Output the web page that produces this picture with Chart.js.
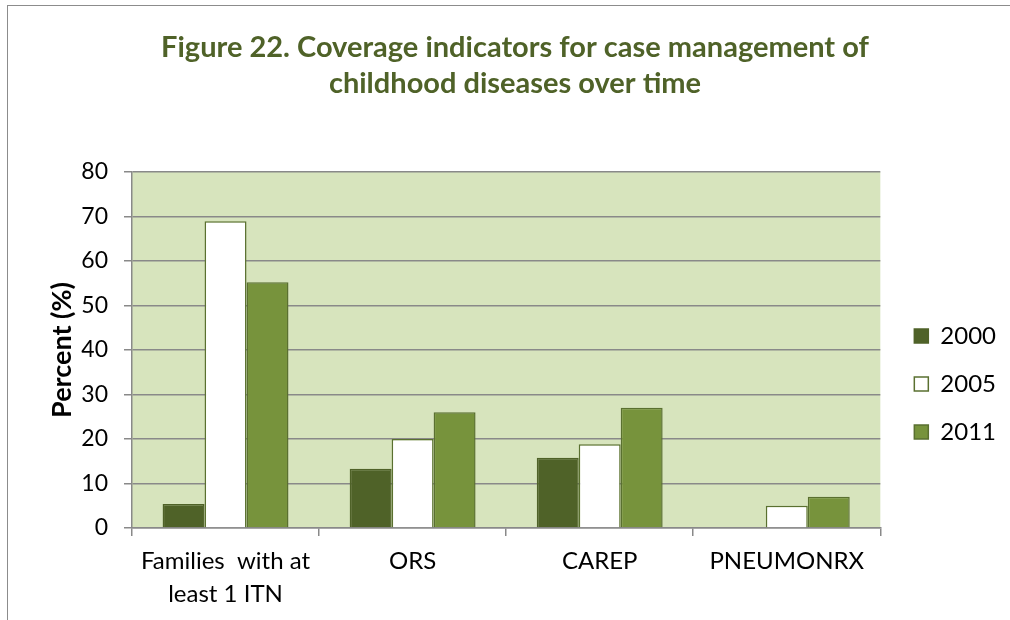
<!DOCTYPE html>
<html>
<head>
<meta charset="utf-8">
<script src="https://cdn.jsdelivr.net/npm/chart.js@4.4.0/dist/chart.umd.min.js"></script>
<style>
  html, body { margin: 0; padding: 0; background: #fff; }
  #wrap { position: relative; width: 1010px; height: 620px; overflow: hidden; }
  #frame { position: absolute; left: 7px; top: 5px; width: 1100px; height: 700px;
           border: 1.5px solid #8c8c8c; box-sizing: border-box; pointer-events: none; }
  canvas { position: absolute; left: 0; top: 0; }
</style>
</head>
<body>
<div id="wrap">
  <canvas id="chart" width="1010" height="620"></canvas>
  <div id="frame"></div>
</div>
<script>
// Datos
const categories = [['Families  with at', 'least 1 ITN'], 'ORS', 'CAREP', 'PNEUMONRX'];
const years = ['2000', '2005', '2011'];
const values2000 = [5.4, 13.3, 15.8, 0];
const values2005 = [68.9, 20, 18.8, 5];
const values2011 = [55.2, 26, 27, 7];
const yTicks = [0, 10, 20, 30, 40, 50, 60, 70, 80];

const fontFamily = 'Lato, "Open Sans", sans-serif';
const darkGreen = '#4f6228';
const midGreen = '#77933c';
const gridGray = '#898989';

// Fondo del área de trazado
const plotBackground = {
    id: 'plotBackground',
    beforeDraw(chart) {
        const { ctx, chartArea } = chart;
        ctx.save();
        ctx.fillStyle = '#d7e4bd';
        ctx.fillRect(chartArea.left, chartArea.top, chartArea.right - chartArea.left, chartArea.bottom - chartArea.top);
        ctx.restore();
    }
};

// Desplazar la leyenda un poco a la derecha, como en el original
const legendShift = {
    id: 'legendShift',
    afterLayout(chart) {
        if (chart.legend) {
            chart.legend.left += 10;
            chart.legend.right += 10;
        }
    }
};

function initializeChart() {
    const canvas = document.getElementById('chart');

    new Chart(canvas, {
        type: 'bar',
        data: {
            labels: categories,
            datasets: [
                { label: years[0], data: values2000, backgroundColor: darkGreen, borderColor: darkGreen, borderWidth: 1.5 },
                { label: years[1], data: values2005, backgroundColor: '#ffffff', borderColor: '#5a7030', borderWidth: 1.5 },
                { label: years[2], data: values2011, backgroundColor: midGreen, borderColor: '#5a7030', borderWidth: 1.5 }
            ]
        },
        options: {
            responsive: false,
            animation: false,
            layout: { padding: { left: 34, right: 14, top: 0, bottom: 0 } },
            datasets: { bar: { barPercentage: 1, categoryPercentage: 0.673 } },
            plugins: {
                title: {
                    display: true,
                    text: ['Figure 22. Coverage indicators for case management of', 'childhood diseases over time'],
                    color: darkGreen,
                    font: { family: fontFamily, size: 29, weight: 'bold', lineHeight: 1.24 },
                    padding: { top: 30, bottom: 70 }
                },
                legend: {
                    position: 'right',
                    fullSize: false,
                    title: { display: true, text: ' ', font: { size: 10 }, padding: { top: 28, bottom: 28 } },
                    labels: {
                        color: '#000',
                        font: { family: fontFamily, size: 24 },
                        boxWidth: 14,
                        boxHeight: 14,
                        padding: 24
                    }
                },
                tooltip: { enabled: false }
            },
            scales: {
                x: {
                    grid: { drawOnChartArea: false, drawTicks: true, tickLength: 8, color: gridGray, lineWidth: 1.5, offset: true },
                    border: { color: gridGray, width: 1.5 },
                    ticks: { color: '#000', font: { family: fontFamily, size: 24, lineHeight: 1.4 }, padding: 8, maxRotation: 0 },
                    afterFit(scale) { scale.height = 92; }
                },
                y: {
                    min: 0,
                    max: 80,
                    afterBuildTicks(scale) { scale.ticks = yTicks.map(v => ({ value: v })); },
                    grid: { color: gridGray, lineWidth: 1.5, tickLength: 8 },
                    border: { color: gridGray, width: 1.5 },
                    ticks: { color: '#000', font: { family: fontFamily, size: 23 }, padding: 16 },
                    title: {
                        display: true,
                        text: 'Percent (%)',
                        color: '#000',
                        font: { family: fontFamily, size: 27, weight: 'bold' },
                        padding: { top: 12, bottom: 0 }
                    },
                    afterFit(scale) { scale.width = 98; }
                }
            }
        },
        plugins: [plotBackground, legendShift]
    });
}

document.addEventListener('DOMContentLoaded', initializeChart);
</script>
</body>
</html>
